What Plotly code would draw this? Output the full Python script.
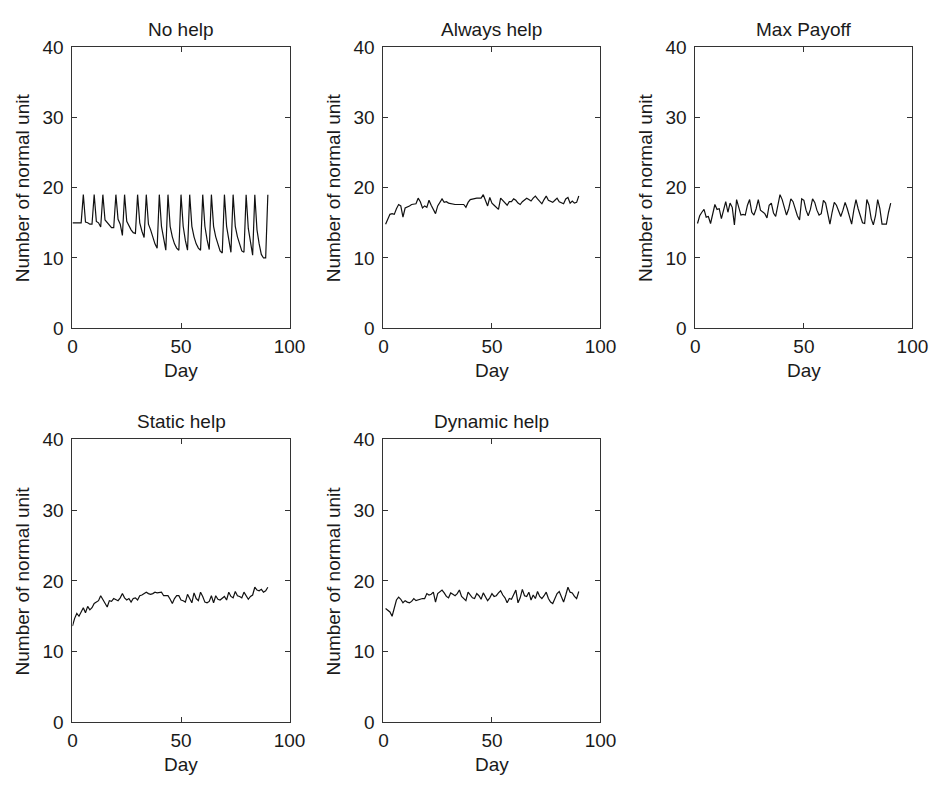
import plotly.graph_objects as go

W, H = 947, 787

titles = ["No help", "Always help", "Max Payoff", "Static help", "Dynamic help"]
x_ticks = [0, 50, 100]
y_ticks = [0, 10, 20, 30, 40]

days_no_help = list(range(0, 91))
no_help = [15, 15, 15, 15, 15, 19, 15.1, 15.0, 14.8, 14.8,
           19, 15.2, 15.0, 14.4, 19, 15.4, 15.0, 14.6, 14.3, 14.3,
           19, 15.5, 14.8, 13.2, 19, 15.2, 14.5, 14.0, 13.6, 13.5,
           19, 15.0, 13.8, 12.9, 19, 14.8, 14.0, 13.0, 12.0, 11.4,
           19, 14.5, 12.5, 11.1, 19, 14.5, 13.0, 12.0, 11.4, 11.1,
           19, 14.5, 12.5, 11.1, 19, 14.5, 13.0, 12.0, 11.4, 11.1,
           19, 14.5, 12.6, 11.2, 19, 14.5, 13.0, 11.8, 11.0, 10.7,
           19, 14.5, 12.4, 10.8, 19, 14.5, 13.0, 11.8, 11.0, 10.8,
           19, 14.2, 12.0, 10.4, 19, 14.0, 12.0, 10.5, 10.0, 10.0,
           19]

days_always = list(range(1, 91))
always_help = [14.8, 15.6, 16.2, 16.3, 16.2, 17.0, 17.6, 17.4, 15.8, 17.1,
               17.2, 17.4, 17.6, 17.6, 17.7, 18.5, 18.0, 17.1, 17.4, 17.2,
               18.2, 17.5, 17.0, 16.3, 17.4, 18.0, 18.4, 17.9, 18.0, 17.8,
               17.7, 17.6, 17.6, 17.6, 17.6, 17.6, 17.6, 17.2, 17.9, 18.3,
               18.4, 18.5, 18.5, 18.5, 18.5, 19.0, 18.2, 17.4, 18.6, 17.8,
               17.5, 17.2, 16.9, 18.5, 18.2, 17.9, 17.5, 18.0, 18.0, 18.4,
               18.2, 17.8, 17.6, 18.0, 18.3, 18.5, 18.3, 18.1, 18.5, 18.8,
               18.4, 18.0, 17.7, 18.3, 18.8, 18.2, 18.0, 17.9, 18.2, 18.5,
               18.0, 17.8, 17.7, 18.4, 18.6, 17.8, 18.1, 17.8, 17.9, 18.8]

days_max = list(range(1, 91))
max_payoff = [14.9, 16.0, 16.5, 16.9, 15.8, 15.9, 14.9, 16.5, 17.6, 16.9,
              17.0, 15.6, 16.8, 18.0, 16.5, 17.8, 17.2, 14.7, 18.3, 17.0,
              16.1, 16.2, 16.1, 17.5, 18.3, 16.5, 16.1, 17.0, 18.3, 16.8,
              16.6, 16.3, 15.7, 17.5, 17.8, 16.4, 15.9, 17.5, 19.0, 18.3,
              17.2, 16.1, 17.0, 18.4, 18.0, 16.8, 16.0, 15.4, 18.4, 18.2,
              16.8, 16.0, 16.9, 18.4, 17.9, 16.8, 16.1, 16.3, 18.2, 17.8,
              16.0, 14.8, 16.5, 17.9, 17.5, 16.6, 15.9, 16.8, 17.9, 17.0,
              15.7, 14.8, 16.8, 18.3, 17.0, 15.8, 15.0, 14.9, 18.3, 17.5,
              15.6, 14.7, 16.0, 18.3, 17.0, 14.8, 14.8, 14.8, 16.5, 17.8]

days_static = list(range(0, 91))
static_help = [13.6, 14.7, 15.4, 15.0, 15.6, 16.2, 15.5, 16.4, 15.9, 16.2,
               16.8, 17.0, 17.2, 17.9, 17.3, 16.8, 16.3, 17.2, 17.1, 17.5,
               17.4, 17.2, 17.6, 18.2, 17.6, 17.3, 17.5, 17.0, 17.5, 17.6,
               17.3, 17.9, 18.0, 18.2, 18.4, 18.2, 18.1, 18.2, 18.4, 18.3,
               18.4, 18.4, 17.9, 17.9, 17.9, 17.4, 16.8, 17.5, 17.9, 17.9,
               17.3, 17.2, 17.0, 18.1, 17.4, 16.9, 18.3, 17.5, 17.2, 18.4,
               17.8, 17.0, 16.9, 17.1, 17.9, 16.9, 17.9, 17.4, 17.3, 17.6,
               17.8, 17.3, 18.4, 17.8, 17.6, 18.5, 17.9, 17.8, 17.6, 18.4,
               17.9, 17.4, 17.8, 18.0, 19.1, 18.7, 18.6, 18.8, 18.4, 18.6,
               19.1]

days_dynamic = list(range(1, 91))
dynamic_help = [16.1, 15.8, 15.6, 15.0, 16.3, 17.3, 17.7, 17.4, 16.9, 17.2,
                17.0, 16.9, 17.1, 17.5, 17.2, 17.3, 17.5, 17.5, 17.5, 18.2,
                18.0, 18.1, 18.4, 17.0, 18.2, 18.5, 18.7, 18.3, 17.8, 17.6,
                18.3, 18.1, 17.9, 18.2, 18.7, 17.8, 17.5, 17.2, 18.4, 17.9,
                17.6, 17.5, 18.2, 17.9, 17.4, 18.3, 17.7, 17.2, 17.6, 18.2,
                17.8, 17.9, 18.3, 18.6, 18.0, 17.6, 16.9, 17.5, 17.4, 18.0,
                18.7, 16.9, 17.6, 18.8, 17.9, 17.8, 18.4, 17.3, 18.0, 17.5,
                18.5, 17.8, 17.5, 17.9, 18.4, 17.5, 17.0, 16.8, 17.5, 18.2,
                18.5, 17.6, 17.0, 18.0, 19.1, 18.4, 18.3, 17.8, 17.5, 18.5]

series = [(days_no_help, no_help), (days_always, always_help), (days_max, max_payoff),
          (days_static, static_help), (days_dynamic, dynamic_help)]

# panel boxes in pixels: (left, right, top, bottom)
boxes = [(69, 291, 38, 327), (387, 609, 38, 327), (706, 928, 38, 327),
         (69, 291, 441, 732), (387, 609, 441, 732)]

FONT = "Liberation Sans, Arial, Helvetica, sans-serif"
FS = 19
TXT = "#1a1a1a"
fig = go.Figure()
layout = dict(width=W, height=H, margin=dict(l=0, r=0, t=0, b=0),
              paper_bgcolor="white", plot_bgcolor="white", showlegend=False,
              font=dict(family=FONT, size=FS, color=TXT))
annotations = []
for i, ((xs, ys), (l, r, t, b), title) in enumerate(zip(series, boxes, titles)):
    n = "" if i == 0 else str(i + 1)
    fig.add_trace(go.Scatter(x=xs, y=ys, mode="lines",
                             line=dict(color="#111111", width=1.2),
                             xaxis="x" + n, yaxis="y" + n, hoverinfo="skip"))
    ax = dict(showline=True, linecolor="#333333", linewidth=1, mirror="ticks",
              ticks="inside", ticklen=5, tickcolor="#333333", tickwidth=1,
              showgrid=False, zeroline=False,
              tickfont=dict(family=FONT, size=FS, color=TXT))
    layout["xaxis" + n] = dict(ax, domain=[l / W, r / W], range=[0, 100],
                                tickvals=x_ticks, anchor="y" + n, ticklabelstandoff=1)
    layout["yaxis" + n] = dict(ax, domain=[1 - b / H, 1 - t / H], range=[0, 40],
                                tickvals=y_ticks, anchor="x" + n, ticklabelstandoff=4)
    cx = (l + r) / 2 / W
    annotations.append(dict(text=title, x=cx, y=1 - (t - 18) / H, xref="paper", yref="paper",
                            showarrow=False, xanchor="center", yanchor="middle",
                            font=dict(family=FONT, size=FS, color=TXT)))
    annotations.append(dict(text="Day", x=cx, y=1 - (b + 43) / H, xref="paper", yref="paper",
                            showarrow=False, xanchor="center", yanchor="middle",
                            font=dict(family=FONT, size=FS, color=TXT)))
    annotations.append(dict(text="Number of normal unit", x=(l - 51) / W, y=1 - (t + b) / 2 / H,
                            xref="paper", yref="paper", showarrow=False, textangle=-90,
                            xanchor="center", yanchor="middle",
                            font=dict(family=FONT, size=FS, color=TXT)))
layout["annotations"] = annotations
fig.update_layout(**layout)
fig.write_html("out.html")
